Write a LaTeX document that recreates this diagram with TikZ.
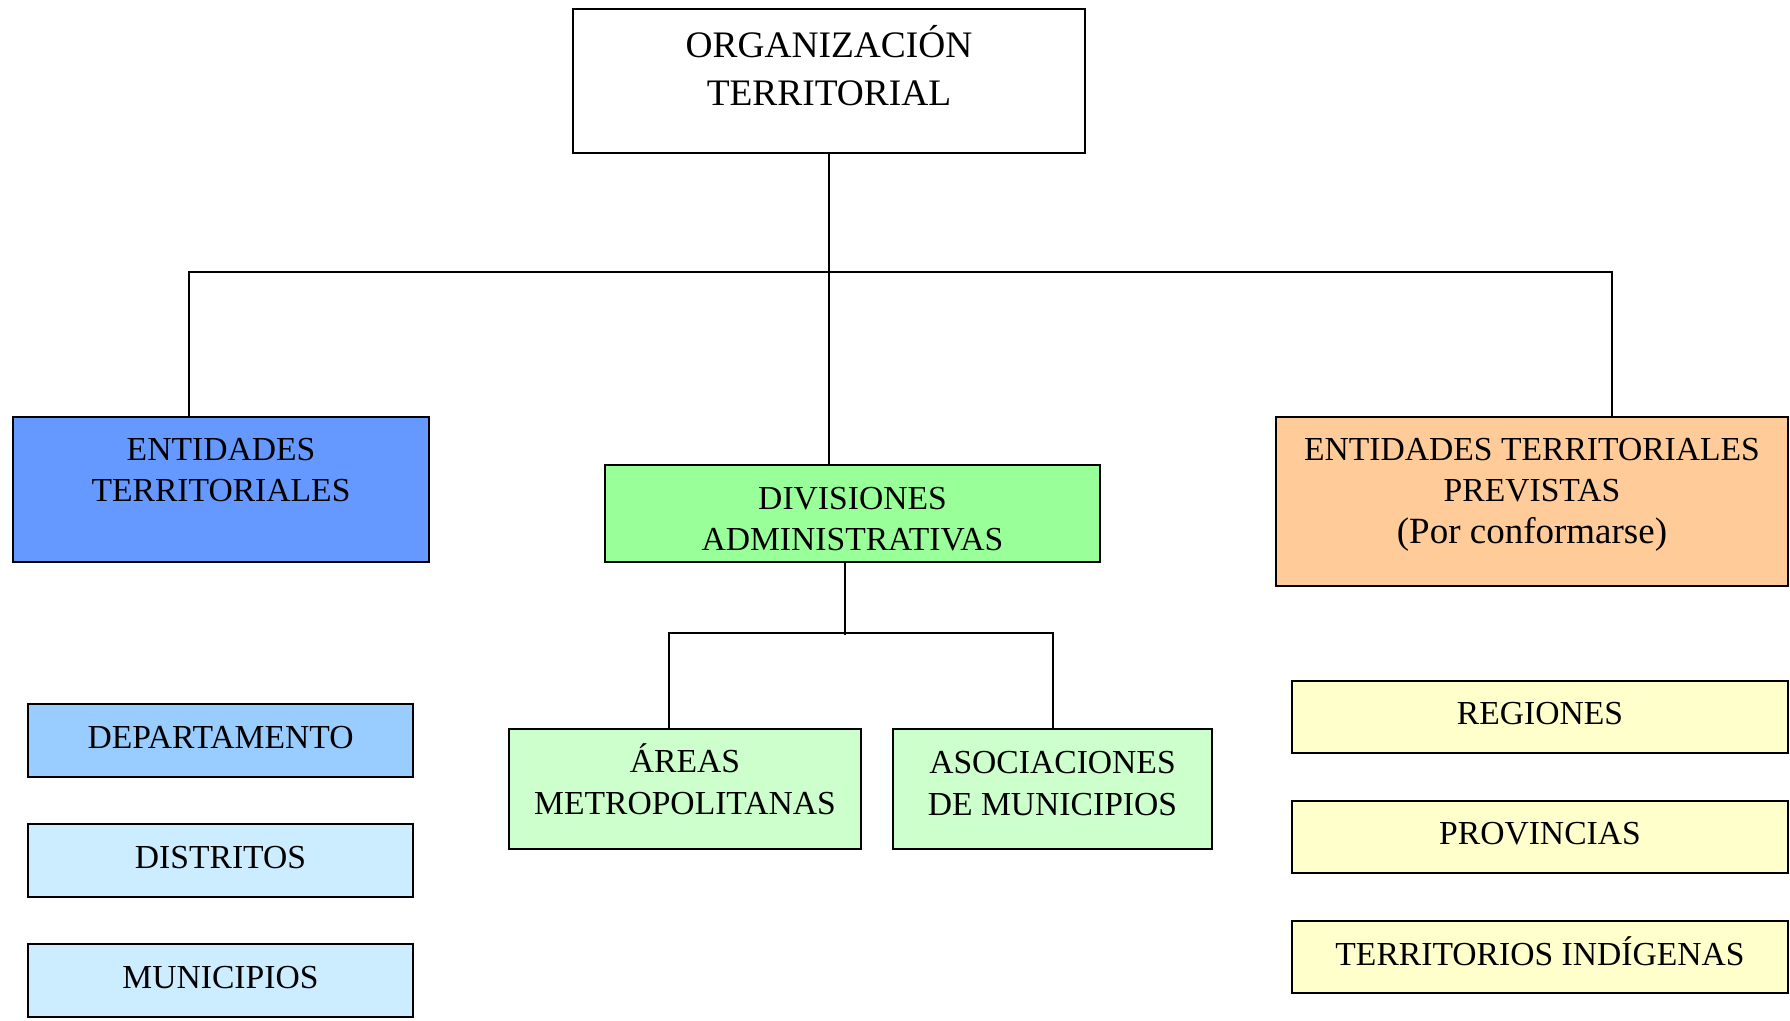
\documentclass[tikz,border=0pt]{standalone}
\usepackage{fontspec}
\setmainfont{Liberation Serif}

\definecolor{entblue}{HTML}{6699FF}
\definecolor{divgreen}{HTML}{99FF99}
\definecolor{prevorange}{HTML}{FFCC99}
\definecolor{deptblue}{HTML}{99CCFF}
\definecolor{munblue}{HTML}{CCECFF}
\definecolor{subgreen}{HTML}{CCFFCC}
\definecolor{regyellow}{HTML}{FFFFCC}

\tikzset{
    box/.style={draw, line width=1pt, inner sep=0pt},
    lbl/.style={align=center, inner sep=0pt, font=\fontsize{16.8}{20.8}\selectfont},
    conn/.style={line width=0.9pt}
}

\begin{document}
\begin{tikzpicture}[x=0.5pt, y=-0.5pt]

    \useasboundingbox (0,0) rectangle (1790,1021);

    %% Top of the chart

    % Organizacion territorial
    \node[box, fill=white, minimum width=256pt, minimum height=72pt] (top) at (829,81) {};
    \node[lbl, font=\fontsize{18.7}{24}\selectfont] (toptxt) at ([yshift=7.75pt]top.center) {ORGANIZACIÓN\\TERRITORIAL};

    %% Second level

    % Entidades territoriales
    \node[box, fill=entblue, minimum width=208pt, minimum height=72.5pt] (ent) at (221,489.5) {};
    \node[lbl] (enttxt) at ([yshift=9.75pt]ent.center) {ENTIDADES\\TERRITORIALES};

    % Divisiones administrativas
    \node[box, fill=divgreen, minimum width=247.5pt, minimum height=48.5pt] (div) at (852.5,513.5) {};
    \node[lbl] (divtxt) at ([yshift=-2.75pt]div.center) {DIVISIONES\\ADMINISTRATIVAS};

    % Entidades previstas
    \node[box, fill=prevorange, minimum width=256pt, minimum height=84.5pt] (prev) at (1532,501.5) {};
    \node[lbl] (prevtxt) at ([yshift=3.5pt]prev.center) {ENTIDADES TERRITORIALES\\PREVISTAS\\{\fontsize{18.5}{20.8}\selectfont(Por conformarse)}};

    %% Third level

    % Left column
    \node[box, fill=deptblue, minimum width=192.5pt, minimum height=36.5pt] (dept) at (220.5,740.5) {};
    \node[lbl] (depttxt) at ([yshift=1.7pt]dept.center) {DEPARTAMENTO};
    \node[box, fill=munblue, minimum width=192.5pt, minimum height=36.5pt] (dist) at (220.5,860.5) {};
    \node[lbl] (disttxt) at ([yshift=1.7pt]dist.center) {DISTRITOS};
    \node[box, fill=munblue, minimum width=192.5pt, minimum height=36.5pt] (mun) at (220.5,980.5) {};
    \node[lbl] (muntxt) at ([yshift=1.7pt]mun.center) {MUNICIPIOS};

    % Middle column
    \node[box, fill=subgreen, minimum width=176pt, minimum height=60pt] (areas) at (685,789) {};
    \node[lbl] (areastxt) at ([yshift=4.75pt]areas.center) {ÁREAS\\METROPOLITANAS};
    \node[box, fill=subgreen, minimum width=159.5pt, minimum height=60pt] (asoc) at (1052.5,789) {};
    \node[lbl] (asoctxt) at ([yshift=2.75pt]asoc.center) {ASOCIACIONES\\DE MUNICIPIOS};

    % Right column
    \node[box, fill=regyellow, minimum width=248pt, minimum height=36pt] (reg) at (1540,717) {};
    \node[lbl] (regtxt) at ([yshift=1.7pt]reg.center) {REGIONES};
    \node[box, fill=regyellow, minimum width=248pt, minimum height=36pt] (prov) at (1540,837) {};
    \node[lbl] (provtxt) at ([yshift=1.7pt]prov.center) {PROVINCIAS};
    \node[box, fill=regyellow, minimum width=248pt, minimum height=36pt] (terr) at (1540,957) {};
    \node[lbl] (terrtxt) at ([yshift=2.9pt]terr.center) {TERRITORIOS INDÍGENAS};

    %% Connectors
    \draw[conn] (top.south) -- (top.south |- div.north);
    \draw[conn] ([xshift=-16pt]ent.north) -- ++(0,-144) -| ([xshift=40pt]prev.north);
    \draw[conn] ([xshift=-3.75pt]div.south) -- ++(0,72);
    \draw[conn] ([xshift=-8pt]areas.north) -- ++(0,-95) -| ([xshift=0.25pt]asoc.north);

\end{tikzpicture}
\end{document}
